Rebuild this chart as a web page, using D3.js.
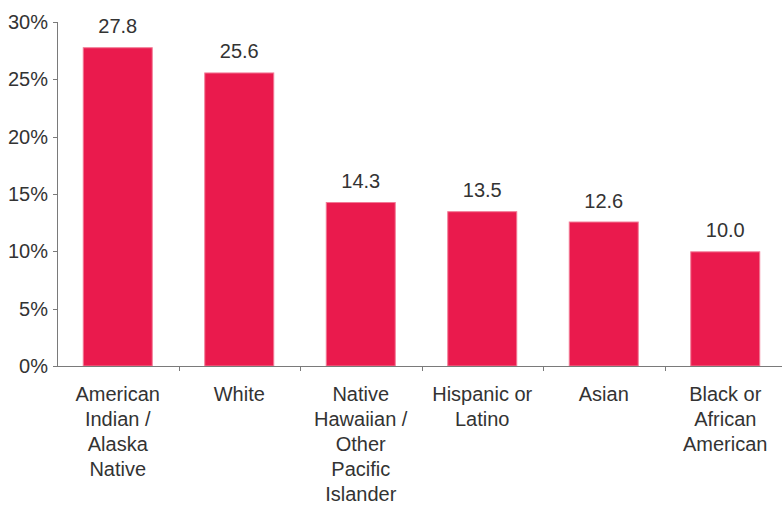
<!DOCTYPE html>
<html lang="en">
<head>
    <meta charset="UTF-8">
    <title>bar chart</title>
    <script src="https://d3js.org/d3.v7.min.js"></script>
    <style>
        body {
            margin: 0;
            background-color: #ffffff;
            font-family: "Liberation Sans", Arial, sans-serif;
        }

        .bar {
            fill: #ea1a4d;
            stroke: #f27a95;
            stroke-width: 1px;
        }

        .axis-line {
            stroke: #7a7a7a;
            stroke-width: 1px;
            shape-rendering: crispEdges;
        }

        text {
            font-size: 20px;
            fill: #333333;
        }
    </style>
</head>
<body>
<script>
    const categories = [
        ["American", "Indian /", "Alaska", "Native"],
        ["White"],
        ["Native", "Hawaiian /", "Other", "Pacific", "Islander"],
        ["Hispanic or", "Latino"],
        ["Asian"],
        ["Black or", "African", "American"]
    ];
    const values = [27.8, 25.6, 14.3, 13.5, 12.6, 10.0];
    const yTicks = [0, 5, 10, 15, 20, 25, 30];

    const width = 782, height = 506;
    const margin = {top: 22, left: 57, bottom: 140};
    const plotBottom = height - margin.bottom;

    const svg = d3.select("body").append("svg")
        .attr("width", width)
        .attr("height", height);

    const keys = categories.map((c, i) => i);

    const x = d3.scaleBand()
        .domain(keys)
        .range([margin.left, margin.left + 729])
        .paddingInner(0.424)
        .paddingOuter(0.212);

    const y = d3.scaleLinear()
        .domain([0, 30])
        .range([plotBottom, margin.top]);

    const gap = (x.step() - x.bandwidth()) / 2;

    // bars
    svg.selectAll(".bar")
        .data(values)
        .enter().append("rect")
        .attr("class", "bar")
        .attr("x", (d, i) => x(i) + 0.5)
        .attr("y", d => y(d) + 0.5)
        .attr("width", x.bandwidth() - 1)
        .attr("height", d => y(0) - y(d) - 0.5);

    // value labels
    svg.selectAll(".val")
        .data(values)
        .enter().append("text")
        .attr("class", "val")
        .attr("x", (d, i) => x(i) + x.bandwidth() / 2)
        .attr("y", d => y(d) - 14)
        .attr("text-anchor", "middle")
        .text(d => d.toFixed(1));

    // y axis
    svg.append("line")
        .attr("class", "axis-line")
        .attr("x1", margin.left + 0.5).attr("x2", margin.left + 0.5)
        .attr("y1", y(30)).attr("y2", y(0));

    svg.selectAll(".ytick")
        .data(yTicks)
        .enter().append("line")
        .attr("class", "axis-line")
        .attr("x1", margin.left - 4).attr("x2", margin.left)
        .attr("y1", d => Math.round(y(d)) + 0.5)
        .attr("y2", d => Math.round(y(d)) + 0.5);

    svg.selectAll(".ylab")
        .data(yTicks)
        .enter().append("text")
        .attr("x", margin.left - 9)
        .attr("y", d => y(d))
        .attr("dy", "0.35em")
        .attr("text-anchor", "end")
        .text(d => d + "%");

    // x axis
    svg.append("line")
        .attr("class", "axis-line")
        .attr("x1", margin.left).attr("x2", width)
        .attr("y1", Math.round(y(0)) + 0.5).attr("y2", Math.round(y(0)) + 0.5);

    svg.selectAll(".xtick")
        .data(keys.slice(1))
        .enter().append("line")
        .attr("class", "axis-line")
        .attr("x1", d => Math.round(x(d) - gap) + 0.5)
        .attr("x2", d => Math.round(x(d) - gap) + 0.5)
        .attr("y1", y(0)).attr("y2", y(0) + 5);

    // category labels
    const lab = svg.selectAll(".xlab")
        .data(categories)
        .enter().append("text")
        .attr("class", "xlab")
        .attr("text-anchor", "middle");

    lab.selectAll("tspan")
        .data((d, i) => d.map(line => ({line, i})))
        .enter().append("tspan")
        .attr("x", d => x(d.i) + x.bandwidth() / 2)
        .attr("y", (d, j) => y(0) + 35 + j * 25)
        .text(d => d.line);
</script>
</body>
</html>
